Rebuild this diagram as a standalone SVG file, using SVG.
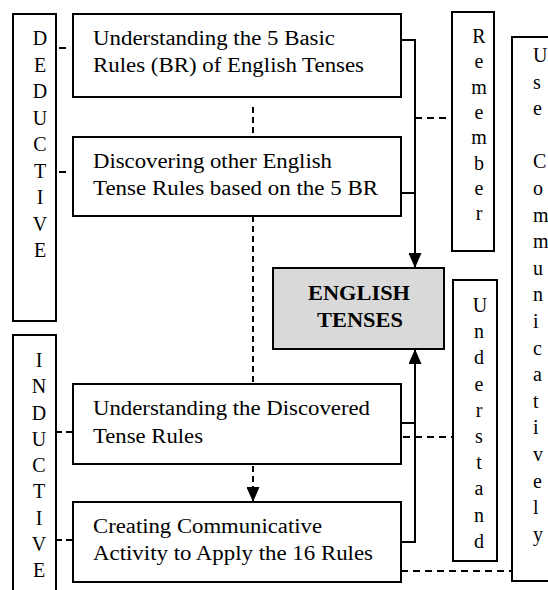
<svg xmlns="http://www.w3.org/2000/svg" width="548" height="590" viewBox="0 0 548 590">
<defs>
<style>
.box{fill:#fff;stroke:#000;stroke-width:2}
.grey{fill:#d9d9d9;stroke:#000;stroke-width:2}
.t{font-family:"Liberation Serif","Times New Roman",serif;font-size:20px;fill:#000}
.b{font-family:"Liberation Serif","Times New Roman",serif;font-size:20px;font-weight:bold;fill:#000;text-anchor:middle}
.v{font-family:"Liberation Serif","Times New Roman",serif;font-size:20px;fill:#000;text-anchor:middle}
.vl{font-family:"Liberation Serif","Times New Roman",serif;font-size:20px;fill:#000}
.solid{fill:none;stroke:#000;stroke-width:2}
.dash{fill:none;stroke:#000;stroke-width:2;stroke-dasharray:6 4}
</style>
<marker id="arr" markerUnits="userSpaceOnUse" markerWidth="15" markerHeight="13" viewBox="0 0 15 13" refX="15" refY="6.5" orient="auto">
<path d="M0,0 L15,6.5 L0,13 z" fill="#000"/>
</marker>
</defs>

<g id="deductive">
<rect class="box" x="13" y="14" width="43" height="307"/>
<text class="v" x="40" y="45">D</text>
<text class="v" x="40" y="71.5">E</text>
<text class="v" x="40" y="98">D</text>
<text class="v" x="40" y="124.5">U</text>
<text class="v" x="40" y="151">C</text>
<text class="v" x="40" y="177.5">T</text>
<text class="v" x="40" y="204">I</text>
<text class="v" x="40" y="230.5">V</text>
<text class="v" x="40" y="257">E</text>
</g>

<g id="inductive">
<rect class="box" x="13" y="335" width="43" height="300"/>
<text class="v" x="39" y="367">I</text>
<text class="v" x="39" y="393">N</text>
<text class="v" x="39" y="419.5">D</text>
<text class="v" x="39" y="446">U</text>
<text class="v" x="39" y="472">C</text>
<text class="v" x="39" y="498">T</text>
<text class="v" x="39" y="524.5">I</text>
<text class="v" x="39" y="551">V</text>
<text class="v" x="39" y="577">E</text>
</g>

<g id="box1">
<rect class="box" x="73" y="14" width="328" height="83"/>
<text class="t" x="93" y="45" textLength="242" lengthAdjust="spacingAndGlyphs">Understanding the 5 Basic</text>
<text class="t" x="93" y="72" textLength="271" lengthAdjust="spacingAndGlyphs">Rules (BR) of English Tenses</text>
</g>

<g id="box2">
<rect class="box" x="73" y="137" width="328" height="79"/>
<text class="t" x="93" y="168" textLength="239" lengthAdjust="spacingAndGlyphs">Discovering other English</text>
<text class="t" x="93" y="195" textLength="285" lengthAdjust="spacingAndGlyphs">Tense Rules based on the 5 BR</text>
</g>

<g id="box3">
<rect class="box" x="73" y="384" width="328" height="80"/>
<text class="t" x="93" y="415" textLength="277" lengthAdjust="spacingAndGlyphs">Understanding the Discovered</text>
<text class="t" x="93" y="443" textLength="110" lengthAdjust="spacingAndGlyphs">Tense Rules</text>
</g>

<g id="box4">
<rect class="box" x="73" y="502" width="328" height="80"/>
<text class="t" x="93" y="533" textLength="229" lengthAdjust="spacingAndGlyphs">Creating Communicative</text>
<text class="t" x="93" y="560" textLength="280" lengthAdjust="spacingAndGlyphs">Activity to Apply the 16 Rules</text>
</g>

<g id="english-tenses">
<rect class="grey" x="273" y="268" width="171" height="81"/>
<text class="b" x="359" y="300" textLength="102" lengthAdjust="spacingAndGlyphs">ENGLISH</text>
<text class="b" x="360" y="327" textLength="86" lengthAdjust="spacingAndGlyphs">TENSES</text>
</g>

<g id="remember">
<rect class="box" x="452" y="12" width="42" height="239"/>
<text class="v" x="479" y="43">R</text>
<text class="v" x="479" y="68.3">e</text>
<text class="v" x="479" y="93.6">m</text>
<text class="v" x="479" y="118.9">e</text>
<text class="v" x="479" y="144.2">m</text>
<text class="v" x="479" y="169.5">b</text>
<text class="v" x="479" y="194.8">e</text>
<text class="v" x="479" y="220">r</text>
</g>

<g id="understand">
<rect class="box" x="453" y="280" width="44" height="281"/>
<text class="v" x="480" y="312">U</text>
<text class="v" x="479" y="338.2">n</text>
<text class="v" x="479" y="364.4">d</text>
<text class="v" x="479" y="390.6">e</text>
<text class="v" x="479" y="416.8">r</text>
<text class="v" x="479" y="443">s</text>
<text class="v" x="479" y="469.2">t</text>
<text class="v" x="479" y="495.4">a</text>
<text class="v" x="479" y="521.6">n</text>
<text class="v" x="479" y="548">d</text>
</g>

<g id="use-communicatively">
<rect class="box" x="512" y="37" width="60" height="544"/>
<text class="vl" x="533" y="62">U</text>
<text class="vl" x="533" y="88.6">s</text>
<text class="vl" x="533" y="115.2">e</text>
<text class="vl" x="533" y="168.4">C</text>
<text class="vl" x="533" y="195">o</text>
<text class="vl" x="533" y="221.6">m</text>
<text class="vl" x="533" y="248.2">m</text>
<text class="vl" x="533" y="274.8">u</text>
<text class="vl" x="533" y="301.4">n</text>
<text class="vl" x="533" y="328">i</text>
<text class="vl" x="533" y="354.6">c</text>
<text class="vl" x="533" y="381.2">a</text>
<text class="vl" x="533" y="407.8">t</text>
<text class="vl" x="533" y="434.4">i</text>
<text class="vl" x="533" y="461">v</text>
<text class="vl" x="533" y="487.6">e</text>
<text class="vl" x="533" y="514.2">l</text>
<text class="vl" x="533" y="541">y</text>
</g>

<g id="connectors">
<line class="dash" x1="59" y1="48" x2="73" y2="48" style="stroke-dasharray:7 7"/>
<line class="dash" x1="59" y1="172" x2="73" y2="172" style="stroke-dasharray:7 7"/>
<line class="dash" x1="56" y1="432" x2="73" y2="432"/>
<line class="dash" x1="56" y1="540" x2="73" y2="540"/>
<line class="dash" x1="253" y1="107" x2="253" y2="137"/>
<line class="dash" x1="253" y1="216" x2="253" y2="384"/>
<line class="dash" x1="253" y1="466" x2="253" y2="502" marker-end="url(#arr)"/>
<path class="solid" d="M401,40 H415 V268" marker-end="url(#arr)"/>
<path class="solid" d="M401,193 H415"/>
<path class="solid" d="M401,542 H415 V349" marker-end="url(#arr)"/>
<path class="solid" d="M401,423 H415"/>
<line class="dash" x1="415" y1="118" x2="452" y2="118" style="stroke-dasharray:7 5"/>
<line class="dash" x1="403" y1="437" x2="453" y2="437" style="stroke-dasharray:7 5"/>
<line class="dash" x1="401" y1="571" x2="512" y2="571" style="stroke-dasharray:7 5"/>
</g>
</svg>
